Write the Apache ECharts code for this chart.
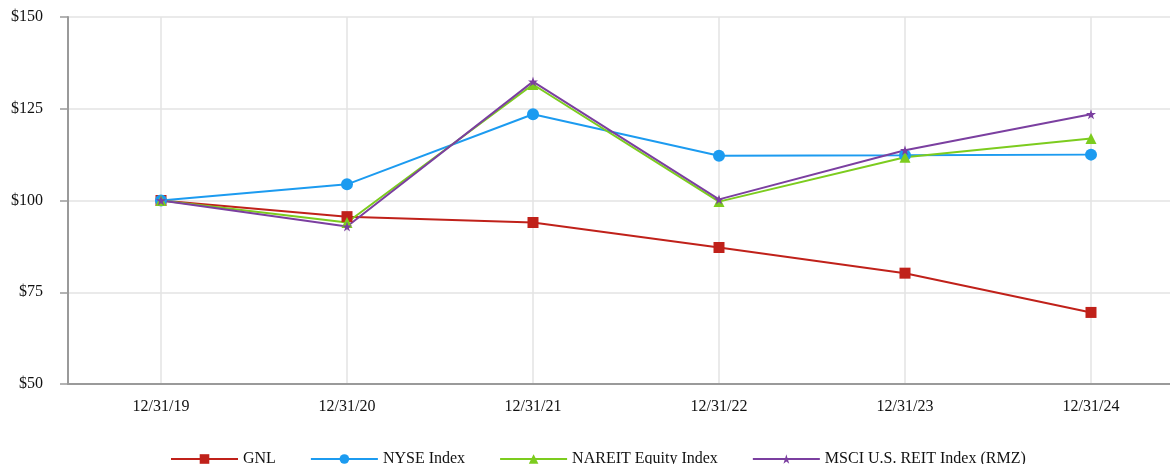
<!DOCTYPE html>
<html>
<head>
<meta charset="utf-8">
<script src="https://cdn.jsdelivr.net/npm/echarts@6/dist/echarts.min.js"></script>
<style>html,body{margin:0;padding:0;background:#fff;overflow:hidden}#c{width:1184px;height:464px}</style>
</head>
<body>
<div id="c"></div>
<script>
var categories = ['12/31/19','12/31/20','12/31/21','12/31/22','12/31/23','12/31/24'];
var gnl    = [100, 95.6, 94.0, 87.2, 80.2, 69.5];
var nyse   = [100, 104.4, 123.5, 112.2, 112.3, 112.5];
var nareit = [100, 94.0, 131.6, 99.7, 111.8, 116.9];
var msci   = [100, 92.9, 132.4, 100.3, 113.7, 123.5];
var yTicks = ['$50','$75','$100','$125','$150'];

var chart = echarts.init(document.getElementById('c'), null, {renderer:'canvas'});
var font = 'Liberation Serif';
function s(name, data, color, symbol, size){
  return {name:name, type:'line', data:data, symbol:symbol, symbolSize:size,
    showSymbol:true, lineStyle:{color:color, width:2}, itemStyle:{color:color}, z:2};
}
chart.setOption({
  animation:false,
  grid:{left:68, top:17, width:1116, height:367},
  legend:{top:446, left:165, itemWidth:67, itemHeight:12, itemGap:34,
    textStyle:{fontFamily:font, fontSize:16, color:'#111'},
    data:['GNL','NYSE Index','NAREIT Equity Index','MSCI U.S. REIT Index (RMZ)']},
  xAxis:{type:'category', data:categories, boundaryGap:true,
    axisLine:{lineStyle:{color:'#9a9a9a', width:2}},
    axisTick:{alignWithLabel:true, length:8, lineStyle:{color:'#9a9a9a', width:1.5}},
    axisLabel:{fontFamily:font, fontSize:16, color:'#111', margin:15},
    splitLine:{show:true, alignWithLabel:true, lineStyle:{color:'#e3e3e3', width:1.5}}, splitArea:{show:false}},
  yAxis:{type:'value', min:50, max:150, interval:25,
    axisLine:{show:true, lineStyle:{color:'#9a9a9a', width:2}},
    axisTick:{show:true, length:8, lineStyle:{color:'#9a9a9a', width:1.5}},
    axisLabel:{fontFamily:font, fontSize:16, color:'#111', margin:25,
      formatter:function(v){ var i=(v-50)/25; return yTicks[i]!==undefined?yTicks[i]:''; }},
    splitLine:{show:true, lineStyle:{color:'#e3e3e3', width:1.5}}},
  series:[
    s('GNL', gnl, '#c0211a', 'rect', 11),
    s('NYSE Index', nyse, '#1c9bf0', 'circle', 12),
    s('NAREIT Equity Index', nareit, '#7ccc1e', 'triangle', 11),
    s('MSCI U.S. REIT Index (RMZ)', msci, '#7b3fa0', 'path://M50,0 L61,35 L98,35 L68,57 L79,91 L50,70 L21,91 L32,57 L2,35 L39,35 Z', 10)
  ]
});
</script>
</body>
</html>
